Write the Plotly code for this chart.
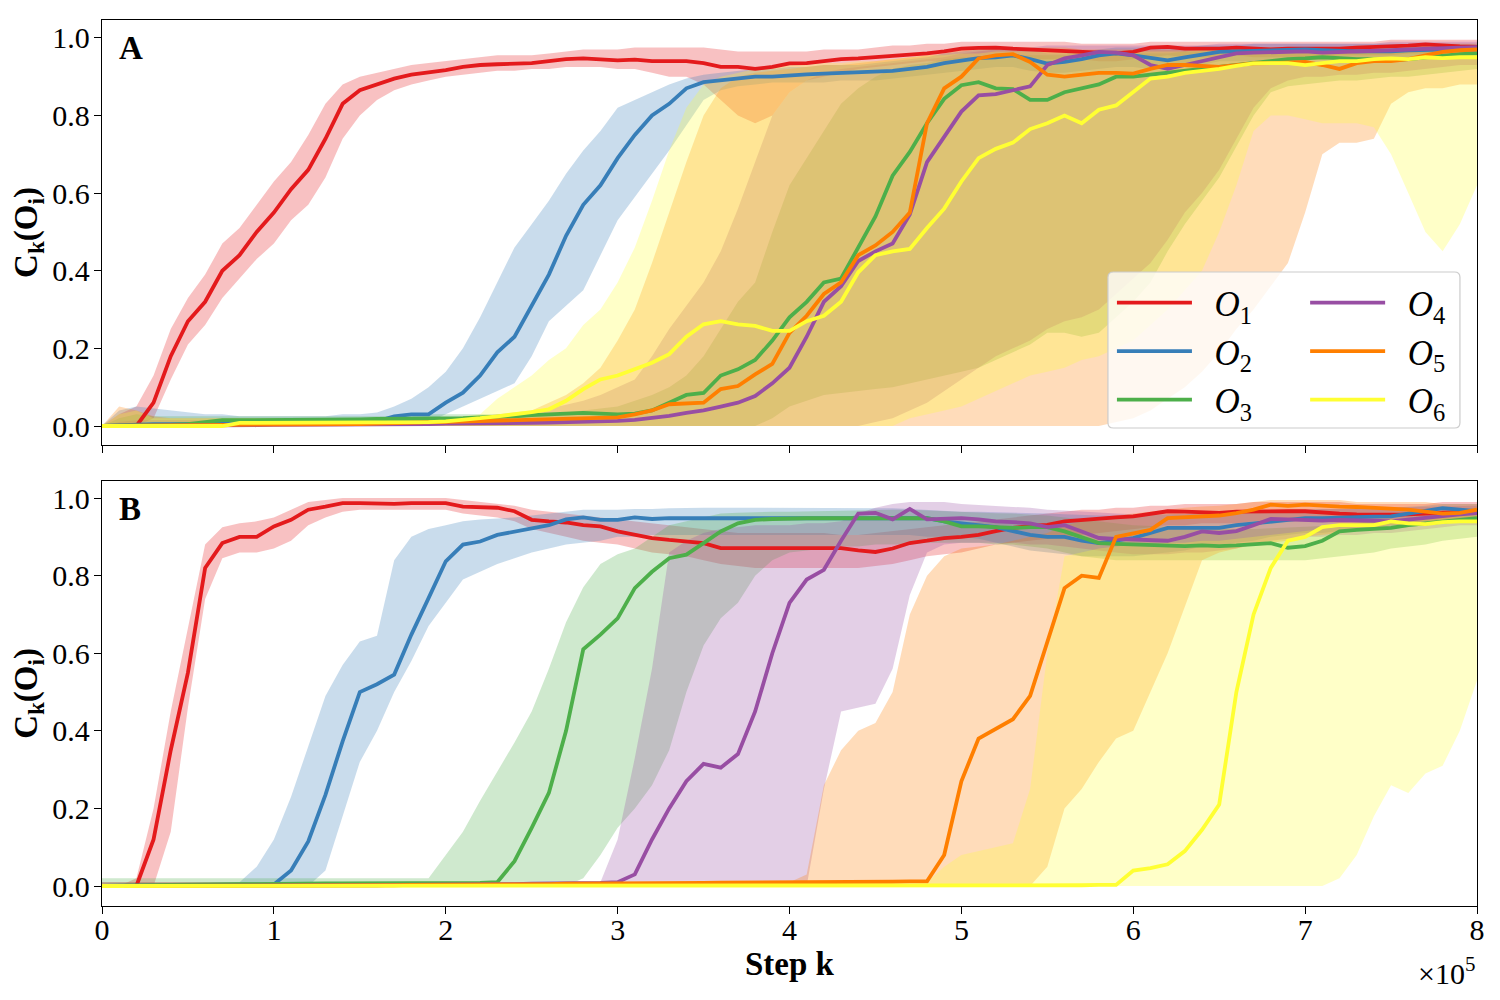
"""
Two-panel plot of C_k(O_i) against training step for six options O1..O6.
Each curve is drawn with a shaded band (lower/upper bound).
Saves to out.html.
"""

import plotly.graph_objects as go

FONT = "Liberation Serif"

# step axis, in units of 1e5
STEPS = [
    0.0, 0.1, 0.2, 0.3, 0.4, 0.5, 0.6, 0.7, 0.8, 0.9,
    1.0, 1.1, 1.2, 1.3, 1.4, 1.5, 1.6, 1.7, 1.8, 1.9,
    2.0, 2.1, 2.2, 2.3, 2.4, 2.5, 2.6, 2.7, 2.8, 2.9,
    3.0, 3.1, 3.2, 3.3, 3.4, 3.5, 3.6, 3.7, 3.8, 3.9,
    4.0, 4.1, 4.2, 4.3, 4.4, 4.5, 4.6, 4.7, 4.8, 4.9,
    5.0, 5.1, 5.2, 5.3, 5.4, 5.5, 5.6, 5.7, 5.8, 5.9,
    6.0, 6.1, 6.2, 6.3, 6.4, 6.5, 6.6, 6.7, 6.8, 6.9,
    7.0, 7.1, 7.2, 7.3, 7.4, 7.5, 7.6, 7.7, 7.8, 7.9,
    8.0,
]

LABELS = [
    "\u2002<i>O</i><sub>1</sub>", "\u2002<i>O</i><sub>2</sub>", "\u2002<i>O</i><sub>3</sub>",
    "\u2002<i>O</i><sub>4</sub>", "\u2002<i>O</i><sub>5</sub>", "\u2002<i>O</i><sub>6</sub>",
]
COLOURS = ["#e41a1c", "#377eb8", "#4daf4a", "#984ea3", "#ff7f00", "#ffff33"]

Y_TICKS = [0.0, 0.2, 0.4, 0.6, 0.8, 1.0]
Y_TICK_TEXT = ["0.0", "0.2", "0.4", "0.6", "0.8", "1.0"]
X_TICKS = [0, 1, 2, 3, 4, 5, 6, 7, 8]

# ---------------- panel A ----------------
A_O1_MEAN = [
    0.00, 0.00, 0.00, 0.06, 0.18, 0.27, 0.32, 0.40, 0.44, 0.50,
    0.55, 0.61, 0.66, 0.74, 0.83, 0.865, 0.88, 0.895, 0.905, 0.91,
    0.917, 0.925, 0.93, 0.932, 0.934, 0.935, 0.94, 0.945, 0.947, 0.945,
    0.942, 0.944, 0.94, 0.94, 0.94, 0.935, 0.925, 0.925, 0.92, 0.925,
    0.934, 0.935, 0.94, 0.945, 0.947, 0.95, 0.955, 0.958, 0.96, 0.965,
    0.972, 0.974, 0.975, 0.972, 0.97, 0.968, 0.968, 0.965, 0.963, 0.96,
    0.964, 0.975, 0.977, 0.972, 0.972, 0.972, 0.975, 0.972, 0.97, 0.972,
    0.972, 0.97, 0.972, 0.975, 0.976, 0.978, 0.98, 0.983, 0.98, 0.978,
    0.977,
]
A_O1_LO = [
    0.00, 0.00, 0.00, 0.02, 0.12, 0.21, 0.26, 0.33, 0.38, 0.43,
    0.47, 0.53, 0.57, 0.64, 0.74, 0.80, 0.84, 0.865, 0.88, 0.89,
    0.90, 0.905, 0.91, 0.915, 0.915, 0.92, 0.92, 0.925, 0.925, 0.925,
    0.92, 0.92, 0.91, 0.90, 0.90, 0.88, 0.84, 0.80, 0.78, 0.80,
    0.86, 0.89, 0.90, 0.91, 0.92, 0.925, 0.93, 0.935, 0.94, 0.94,
    0.945, 0.95, 0.95, 0.95, 0.945, 0.945, 0.945, 0.945, 0.94, 0.94,
    0.945, 0.95, 0.955, 0.95, 0.95, 0.95, 0.955, 0.95, 0.95, 0.95,
    0.95, 0.95, 0.955, 0.955, 0.955, 0.955, 0.96, 0.96, 0.96, 0.96,
    0.96,
]
A_O1_HI = [
    0.00, 0.03, 0.05, 0.13, 0.25, 0.33, 0.39, 0.47, 0.51, 0.57,
    0.63, 0.68, 0.75, 0.83, 0.88, 0.90, 0.91, 0.92, 0.93, 0.935,
    0.94, 0.945, 0.95, 0.955, 0.955, 0.955, 0.96, 0.965, 0.97, 0.97,
    0.97, 0.975, 0.975, 0.975, 0.975, 0.975, 0.97, 0.965, 0.965, 0.965,
    0.965, 0.965, 0.97, 0.97, 0.97, 0.975, 0.98, 0.98, 0.985, 0.985,
    0.99, 0.99, 0.99, 0.99, 0.99, 0.99, 0.99, 0.985, 0.985, 0.985,
    0.985, 0.99, 0.99, 0.99, 0.99, 0.99, 0.99, 0.99, 0.99, 0.99,
    0.99, 0.99, 0.99, 0.99, 0.99, 0.995, 0.995, 0.995, 0.995, 0.995,
    0.995,
]

A_O2_MEAN = [
    0.00, 0.002, 0.005, 0.005, 0.005, 0.005, 0.006, 0.006, 0.007, 0.007,
    0.008, 0.008, 0.008, 0.009, 0.009, 0.01, 0.012, 0.025, 0.03, 0.03,
    0.06, 0.086, 0.13, 0.19, 0.23, 0.31, 0.39, 0.49, 0.57, 0.62,
    0.69, 0.75, 0.80, 0.83, 0.87, 0.886, 0.89, 0.895, 0.90, 0.90,
    0.904, 0.906, 0.908, 0.91, 0.91, 0.912, 0.915, 0.92, 0.925, 0.935,
    0.942, 0.948, 0.95, 0.955, 0.945, 0.934, 0.938, 0.945, 0.955, 0.96,
    0.955, 0.948, 0.942, 0.95, 0.958, 0.964, 0.965, 0.966, 0.968, 0.97,
    0.97, 0.968, 0.966, 0.965, 0.966, 0.965, 0.968, 0.97, 0.97, 0.97,
    0.97,
]
A_O2_LO = [
    0.00, 0.00, 0.00, 0.00, 0.00, 0.00, 0.00, 0.00, 0.00, 0.00,
    0.00, 0.00, 0.00, 0.00, 0.00, 0.00, 0.00, 0.00, 0.005, 0.01,
    0.03, 0.05, 0.07, 0.09, 0.11, 0.18, 0.27, 0.31, 0.35, 0.44,
    0.53, 0.59, 0.65, 0.71, 0.775, 0.84, 0.865, 0.875, 0.88, 0.885,
    0.885, 0.885, 0.885, 0.89, 0.89, 0.89, 0.895, 0.90, 0.905, 0.91,
    0.915, 0.92, 0.925, 0.925, 0.915, 0.91, 0.91, 0.915, 0.92, 0.925,
    0.925, 0.92, 0.92, 0.925, 0.93, 0.94, 0.94, 0.94, 0.945, 0.945,
    0.945, 0.945, 0.945, 0.945, 0.945, 0.945, 0.95, 0.95, 0.95, 0.95,
    0.95,
]
A_O2_HI = [
    0.00, 0.04, 0.05, 0.045, 0.04, 0.035, 0.03, 0.03, 0.025, 0.025,
    0.025, 0.025, 0.025, 0.025, 0.03, 0.03, 0.035, 0.05, 0.07, 0.10,
    0.14, 0.20, 0.28, 0.37, 0.46, 0.52, 0.58, 0.65, 0.71, 0.76,
    0.82, 0.84, 0.86, 0.88, 0.895, 0.905, 0.91, 0.915, 0.92, 0.92,
    0.925, 0.925, 0.93, 0.93, 0.93, 0.935, 0.94, 0.945, 0.95, 0.96,
    0.965, 0.97, 0.975, 0.975, 0.97, 0.96, 0.96, 0.965, 0.97, 0.975,
    0.975, 0.975, 0.97, 0.975, 0.98, 0.98, 0.98, 0.985, 0.985, 0.985,
    0.985, 0.985, 0.985, 0.985, 0.985, 0.985, 0.985, 0.985, 0.985, 0.985,
    0.985,
]

A_O3_MEAN = [
    0.00, 0.00, 0.00, 0.002, 0.003, 0.005, 0.01, 0.015, 0.015, 0.015,
    0.015, 0.015, 0.016, 0.016, 0.017, 0.017, 0.018, 0.018, 0.019, 0.019,
    0.02, 0.02, 0.022, 0.023, 0.025, 0.028, 0.03, 0.034, 0.034, 0.032,
    0.03, 0.032, 0.04, 0.06, 0.08, 0.085, 0.13, 0.146, 0.17, 0.22,
    0.28, 0.32, 0.37, 0.38, 0.46, 0.54, 0.645, 0.706, 0.78, 0.843,
    0.878, 0.886, 0.87, 0.868, 0.84, 0.84, 0.86, 0.87, 0.88, 0.90,
    0.90, 0.905, 0.91, 0.915, 0.92, 0.925, 0.93, 0.935, 0.94, 0.945,
    0.947, 0.95, 0.948, 0.945, 0.945, 0.943, 0.945, 0.95, 0.955, 0.958,
    0.96,
]
A_O3_LO = [
    0.00, 0.00, 0.00, 0.00, 0.00, 0.00, 0.00, 0.00, 0.00, 0.00,
    0.00, 0.00, 0.00, 0.00, 0.00, 0.00, 0.00, 0.00, 0.00, 0.00,
    0.00, 0.00, 0.00, 0.00, 0.00, 0.00, 0.00, 0.00, 0.00, 0.00,
    0.00, 0.00, 0.00, 0.00, 0.00, 0.00, 0.00, 0.00, 0.00, 0.02,
    0.05, 0.065, 0.08, 0.085, 0.09, 0.095, 0.10, 0.11, 0.12, 0.13,
    0.14, 0.15, 0.17, 0.19, 0.21, 0.24, 0.24, 0.23, 0.24, 0.28,
    0.32, 0.37, 0.45, 0.52, 0.58, 0.64, 0.72, 0.80, 0.86, 0.875,
    0.88, 0.885, 0.89, 0.89, 0.895, 0.90, 0.90, 0.905, 0.91, 0.915,
    0.92,
]
A_O3_HI = [
    0.00, 0.02, 0.03, 0.025, 0.025, 0.025, 0.025, 0.025, 0.025, 0.025,
    0.025, 0.025, 0.025, 0.025, 0.025, 0.025, 0.025, 0.025, 0.025, 0.03,
    0.03, 0.03, 0.03, 0.03, 0.03, 0.03, 0.03, 0.035, 0.04, 0.045,
    0.05, 0.065, 0.08, 0.10, 0.13, 0.18, 0.25, 0.32, 0.37, 0.50,
    0.62, 0.69, 0.76, 0.83, 0.87, 0.90, 0.92, 0.93, 0.935, 0.945,
    0.95, 0.95, 0.95, 0.955, 0.955, 0.955, 0.955, 0.96, 0.96, 0.96,
    0.96, 0.96, 0.96, 0.965, 0.965, 0.965, 0.965, 0.965, 0.97, 0.97,
    0.97, 0.97, 0.97, 0.97, 0.97, 0.97, 0.975, 0.975, 0.975, 0.975,
    0.975,
]

A_O4_MEAN = [
    0.00, 0.00, 0.00, 0.00, 0.00, 0.00, 0.00, 0.00, 0.002, 0.002,
    0.003, 0.003, 0.003, 0.003, 0.004, 0.004, 0.004, 0.005, 0.005, 0.005,
    0.006, 0.006, 0.006, 0.007, 0.007, 0.008, 0.009, 0.01, 0.01, 0.012,
    0.013, 0.016, 0.02, 0.026, 0.034, 0.04, 0.05, 0.06, 0.077, 0.11,
    0.15, 0.23, 0.32, 0.36, 0.425, 0.45, 0.47, 0.545, 0.68, 0.745,
    0.81, 0.852, 0.855, 0.865, 0.875, 0.93, 0.947, 0.955, 0.964, 0.962,
    0.955, 0.93, 0.92, 0.93, 0.94, 0.95, 0.96, 0.962, 0.963, 0.965,
    0.965, 0.962, 0.963, 0.965, 0.967, 0.968, 0.97, 0.972, 0.975, 0.975,
    0.976,
]
A_O4_LO = [
    0.00, 0.00, 0.00, 0.00, 0.00, 0.00, 0.00, 0.00, 0.00, 0.00,
    0.00, 0.00, 0.00, 0.00, 0.00, 0.00, 0.00, 0.00, 0.00, 0.00,
    0.00, 0.00, 0.00, 0.00, 0.00, 0.00, 0.00, 0.00, 0.00, 0.00,
    0.00, 0.00, 0.00, 0.00, 0.00, 0.00, 0.00, 0.00, 0.00, 0.00,
    0.00, 0.00, 0.00, 0.00, 0.00, 0.01, 0.02, 0.04, 0.06, 0.09,
    0.12, 0.15, 0.18, 0.20, 0.22, 0.25, 0.27, 0.28, 0.30, 0.34,
    0.38, 0.42, 0.48, 0.55, 0.60, 0.66, 0.74, 0.82, 0.87, 0.89,
    0.90, 0.90, 0.905, 0.905, 0.91, 0.91, 0.915, 0.92, 0.925, 0.93,
    0.93,
]
A_O4_HI = [
    0.00, 0.01, 0.015, 0.015, 0.015, 0.015, 0.015, 0.015, 0.015, 0.015,
    0.015, 0.015, 0.015, 0.015, 0.015, 0.015, 0.015, 0.015, 0.015, 0.02,
    0.02, 0.02, 0.025, 0.03, 0.035, 0.04, 0.045, 0.055, 0.065, 0.08,
    0.10, 0.12, 0.18, 0.25, 0.31, 0.37, 0.45, 0.56, 0.68, 0.80,
    0.86, 0.89, 0.91, 0.92, 0.925, 0.93, 0.935, 0.94, 0.945, 0.95,
    0.96, 0.965, 0.97, 0.975, 0.975, 0.98, 0.98, 0.98, 0.98, 0.98,
    0.98, 0.98, 0.98, 0.98, 0.98, 0.985, 0.985, 0.985, 0.985, 0.985,
    0.985, 0.985, 0.985, 0.985, 0.985, 0.99, 0.99, 0.99, 0.99, 0.99,
    0.99,
]

A_O5_MEAN = [
    0.00, 0.00, 0.00, 0.00, 0.00, 0.002, 0.002, 0.003, 0.003, 0.003,
    0.004, 0.004, 0.004, 0.005, 0.005, 0.005, 0.006, 0.007, 0.008, 0.009,
    0.01, 0.011, 0.012, 0.013, 0.014, 0.015, 0.016, 0.017, 0.018, 0.02,
    0.022, 0.03, 0.04, 0.056, 0.058, 0.06, 0.095, 0.103, 0.133, 0.16,
    0.24, 0.284, 0.34, 0.37, 0.44, 0.465, 0.50, 0.55, 0.78, 0.87,
    0.90, 0.947, 0.955, 0.958, 0.938, 0.905, 0.90, 0.905, 0.91, 0.91,
    0.908, 0.92, 0.93, 0.93, 0.928, 0.925, 0.93, 0.934, 0.935, 0.937,
    0.938, 0.93, 0.92, 0.935, 0.94, 0.94, 0.945, 0.955, 0.964, 0.968,
    0.97,
]
A_O5_LO = [
    0.00, 0.00, 0.00, 0.00, 0.00, 0.00, 0.00, 0.00, 0.00, 0.00,
    0.00, 0.00, 0.00, 0.00, 0.00, 0.00, 0.00, 0.00, 0.00, 0.00,
    0.00, 0.00, 0.00, 0.00, 0.00, 0.00, 0.00, 0.00, 0.00, 0.00,
    0.00, 0.00, 0.00, 0.00, 0.00, 0.00, 0.00, 0.00, 0.00, 0.00,
    0.00, 0.00, 0.00, 0.00, 0.00, 0.00, 0.00, 0.00, 0.00, 0.00,
    0.00, 0.00, 0.00, 0.00, 0.00, 0.00, 0.00, 0.00, 0.00, 0.01,
    0.02, 0.04, 0.07, 0.10, 0.14, 0.19, 0.25, 0.30, 0.36, 0.42,
    0.55, 0.70, 0.73, 0.73, 0.74, 0.83, 0.86, 0.87, 0.87, 0.88,
    0.88,
]
A_O5_HI = [
    0.00, 0.05, 0.04, 0.025, 0.02, 0.02, 0.02, 0.02, 0.02, 0.02,
    0.02, 0.02, 0.02, 0.02, 0.02, 0.02, 0.02, 0.02, 0.02, 0.02,
    0.02, 0.02, 0.02, 0.025, 0.03, 0.04, 0.06, 0.08, 0.11, 0.15,
    0.22, 0.30, 0.42, 0.55, 0.68, 0.80, 0.87, 0.90, 0.91, 0.915,
    0.92, 0.925, 0.93, 0.93, 0.935, 0.94, 0.945, 0.95, 0.955, 0.96,
    0.97, 0.975, 0.975, 0.975, 0.975, 0.975, 0.975, 0.97, 0.97, 0.97,
    0.97, 0.97, 0.97, 0.97, 0.97, 0.97, 0.975, 0.975, 0.975, 0.975,
    0.975, 0.975, 0.975, 0.98, 0.98, 0.98, 0.98, 0.985, 0.985, 0.985,
    0.985,
]

A_O6_MEAN = [
    0.00, 0.00, 0.00, 0.00, 0.00, 0.00, 0.00, 0.00, 0.008, 0.008,
    0.008, 0.008, 0.008, 0.008, 0.008, 0.008, 0.009, 0.009, 0.01, 0.01,
    0.012, 0.015, 0.02, 0.025, 0.03, 0.036, 0.043, 0.065, 0.095, 0.12,
    0.13, 0.146, 0.163, 0.185, 0.23, 0.262, 0.27, 0.262, 0.258, 0.245,
    0.245, 0.27, 0.284, 0.32, 0.396, 0.44, 0.45, 0.456, 0.51, 0.56,
    0.63, 0.69, 0.714, 0.73, 0.765, 0.78, 0.80, 0.78, 0.815, 0.826,
    0.86, 0.895, 0.90, 0.91, 0.915, 0.92, 0.928, 0.934, 0.935, 0.935,
    0.93, 0.935, 0.94, 0.94, 0.945, 0.947, 0.945, 0.95, 0.948, 0.95,
    0.95,
]
A_O6_LO = [
    0.00, 0.00, 0.00, 0.00, 0.00, 0.00, 0.00, 0.00, 0.00, 0.00,
    0.00, 0.00, 0.00, 0.00, 0.00, 0.00, 0.00, 0.00, 0.00, 0.00,
    0.00, 0.00, 0.00, 0.00, 0.00, 0.00, 0.00, 0.00, 0.00, 0.00,
    0.00, 0.00, 0.00, 0.00, 0.00, 0.00, 0.00, 0.00, 0.00, 0.00,
    0.00, 0.00, 0.00, 0.00, 0.00, 0.00, 0.00, 0.02, 0.03, 0.04,
    0.05, 0.07, 0.09, 0.11, 0.13, 0.14, 0.15, 0.17, 0.18, 0.20,
    0.22, 0.26, 0.30, 0.35, 0.40, 0.50, 0.62, 0.76, 0.80, 0.80,
    0.79, 0.78, 0.78, 0.78, 0.77, 0.70, 0.60, 0.50, 0.45, 0.52,
    0.62,
]
A_O6_HI = [
    0.00, 0.03, 0.04, 0.02, 0.02, 0.02, 0.02, 0.02, 0.02, 0.02,
    0.02, 0.02, 0.02, 0.02, 0.02, 0.02, 0.02, 0.02, 0.02, 0.02,
    0.02, 0.025, 0.03, 0.07, 0.10, 0.13, 0.17, 0.20, 0.26, 0.30,
    0.37, 0.46, 0.58, 0.71, 0.82, 0.88, 0.90, 0.91, 0.92, 0.925,
    0.93, 0.93, 0.935, 0.935, 0.94, 0.94, 0.945, 0.95, 0.955, 0.955,
    0.96, 0.96, 0.965, 0.965, 0.965, 0.965, 0.965, 0.965, 0.965, 0.965,
    0.965, 0.965, 0.965, 0.965, 0.97, 0.97, 0.97, 0.97, 0.97, 0.97,
    0.97, 0.97, 0.97, 0.97, 0.97, 0.975, 0.975, 0.975, 0.975, 0.975,
    0.975,
]

# ---------------- panel B ----------------
B_O1_MEAN = [
    0.00, 0.00, 0.00, 0.12, 0.35, 0.55, 0.82, 0.884, 0.90, 0.90,
    0.927, 0.944, 0.97, 0.978, 0.987, 0.987, 0.985, 0.985, 0.987, 0.987,
    0.987, 0.978, 0.976, 0.975, 0.966, 0.944, 0.94, 0.937, 0.93, 0.927,
    0.914, 0.905, 0.897, 0.892, 0.888, 0.884, 0.871, 0.871, 0.871, 0.871,
    0.871, 0.871, 0.872, 0.871, 0.865, 0.861, 0.87, 0.884, 0.89, 0.897,
    0.90, 0.905, 0.915, 0.923, 0.928, 0.931, 0.94, 0.944, 0.948, 0.95,
    0.953, 0.96, 0.966, 0.965, 0.963, 0.962, 0.965, 0.966, 0.965, 0.966,
    0.966, 0.962, 0.96, 0.958, 0.957, 0.957, 0.958, 0.96, 0.963, 0.965,
    0.966,
]
B_O1_LO = [
    0.00, 0.00, 0.00, 0.00, 0.14, 0.46, 0.74, 0.845, 0.86, 0.86,
    0.87, 0.89, 0.93, 0.95, 0.965, 0.97, 0.97, 0.97, 0.97, 0.97,
    0.97, 0.96, 0.955, 0.95, 0.94, 0.92, 0.91, 0.90, 0.89, 0.885,
    0.88, 0.87, 0.86, 0.855, 0.85, 0.84, 0.83, 0.825, 0.82, 0.82,
    0.82, 0.82, 0.82, 0.82, 0.82, 0.825, 0.83, 0.84, 0.85, 0.855,
    0.86, 0.87, 0.88, 0.885, 0.89, 0.895, 0.90, 0.905, 0.91, 0.915,
    0.92, 0.925, 0.93, 0.93, 0.935, 0.935, 0.935, 0.94, 0.94, 0.94,
    0.94, 0.94, 0.935, 0.935, 0.935, 0.935, 0.935, 0.94, 0.94, 0.94,
    0.94,
]
B_O1_HI = [
    0.00, 0.00, 0.02, 0.20, 0.45, 0.665, 0.88, 0.925, 0.935, 0.94,
    0.95, 0.97, 0.99, 0.995, 1.0, 1.0, 1.0, 1.0, 1.0, 1.0,
    1.0, 0.995, 0.99, 0.985, 0.98, 0.97, 0.965, 0.96, 0.955, 0.95,
    0.945, 0.94, 0.935, 0.93, 0.925, 0.92, 0.915, 0.91, 0.91, 0.91,
    0.91, 0.91, 0.91, 0.905, 0.905, 0.91, 0.915, 0.92, 0.925, 0.93,
    0.935, 0.94, 0.945, 0.95, 0.955, 0.96, 0.965, 0.97, 0.97, 0.975,
    0.975, 0.98, 0.98, 0.985, 0.985, 0.985, 0.985, 0.99, 0.99, 0.99,
    0.99, 0.99, 0.99, 0.985, 0.985, 0.985, 0.985, 0.985, 0.99, 0.99,
    0.99,
]

B_O2_MEAN = [
    0.00, 0.00, 0.00, 0.002, 0.002, 0.002, 0.003, 0.003, 0.003, 0.003,
    0.004, 0.04, 0.115, 0.235, 0.373, 0.50, 0.52, 0.545, 0.648, 0.742,
    0.837, 0.88, 0.888, 0.905, 0.914, 0.923, 0.93, 0.945, 0.95, 0.944,
    0.944, 0.95, 0.946, 0.948, 0.948, 0.948, 0.948, 0.948, 0.947, 0.948,
    0.948, 0.948, 0.947, 0.948, 0.948, 0.948, 0.947, 0.946, 0.948, 0.94,
    0.935, 0.93, 0.925, 0.915, 0.905, 0.90, 0.90, 0.89, 0.884, 0.89,
    0.897, 0.91, 0.923, 0.923, 0.922, 0.923, 0.93, 0.935, 0.94, 0.945,
    0.948, 0.948, 0.95, 0.95, 0.952, 0.953, 0.96, 0.965, 0.974, 0.97,
    0.966,
]
B_O2_LO = [
    0.00, 0.00, 0.00, 0.00, 0.00, 0.00, 0.00, 0.00, 0.00, 0.00,
    0.00, 0.00, 0.00, 0.04, 0.18, 0.32, 0.40, 0.50, 0.58, 0.67,
    0.73, 0.79, 0.81, 0.83, 0.845, 0.86, 0.87, 0.88, 0.885, 0.89,
    0.90, 0.90, 0.905, 0.905, 0.905, 0.905, 0.905, 0.905, 0.905, 0.905,
    0.905, 0.905, 0.905, 0.905, 0.905, 0.905, 0.905, 0.905, 0.90, 0.90,
    0.90, 0.895, 0.885, 0.875, 0.865, 0.86, 0.855, 0.85, 0.85, 0.85,
    0.85, 0.855, 0.86, 0.865, 0.875, 0.88, 0.885, 0.89, 0.90, 0.905,
    0.91, 0.91, 0.915, 0.915, 0.92, 0.92, 0.925, 0.93, 0.935, 0.94,
    0.94,
]
B_O2_HI = [
    0.01, 0.01, 0.01, 0.01, 0.01, 0.01, 0.01, 0.01, 0.01, 0.05,
    0.12, 0.23, 0.36, 0.49, 0.57, 0.63, 0.645, 0.84, 0.90, 0.92,
    0.93, 0.94, 0.945, 0.948, 0.95, 0.955, 0.96, 0.965, 0.97, 0.97,
    0.97, 0.972, 0.972, 0.974, 0.975, 0.975, 0.975, 0.975, 0.975, 0.975,
    0.975, 0.975, 0.975, 0.975, 0.975, 0.975, 0.974, 0.972, 0.97, 0.968,
    0.965, 0.965, 0.964, 0.963, 0.962, 0.96, 0.958, 0.956, 0.955, 0.955,
    0.955, 0.956, 0.958, 0.958, 0.96, 0.96, 0.962, 0.965, 0.967, 0.97,
    0.97, 0.972, 0.972, 0.974, 0.975, 0.975, 0.978, 0.98, 0.985, 0.985,
    0.985,
]

B_O3_MEAN = [
    0.00, 0.00, 0.00, 0.002, 0.003, 0.004, 0.005, 0.005, 0.005, 0.005,
    0.006, 0.006, 0.007, 0.007, 0.007, 0.007, 0.007, 0.007, 0.008, 0.008,
    0.008, 0.008, 0.008, 0.01, 0.064, 0.15, 0.24, 0.40, 0.61, 0.648,
    0.69, 0.768, 0.81, 0.845, 0.854, 0.884, 0.914, 0.935, 0.944, 0.946,
    0.948, 0.948, 0.948, 0.948, 0.95, 0.95, 0.949, 0.948, 0.948, 0.94,
    0.927, 0.927, 0.925, 0.923, 0.925, 0.925, 0.914, 0.90, 0.884, 0.882,
    0.88, 0.878, 0.876, 0.876, 0.878, 0.876, 0.878, 0.882, 0.884, 0.872,
    0.876, 0.89, 0.914, 0.918, 0.92, 0.923, 0.93, 0.935, 0.94, 0.945,
    0.948,
]
B_O3_LO = [
    0.00, 0.00, 0.00, 0.00, 0.00, 0.00, 0.00, 0.00, 0.00, 0.00,
    0.00, 0.00, 0.00, 0.00, 0.00, 0.00, 0.00, 0.00, 0.00, 0.00,
    0.00, 0.00, 0.00, 0.00, 0.00, 0.00, 0.00, 0.00, 0.02, 0.08,
    0.15, 0.20, 0.26, 0.35, 0.50, 0.62, 0.69, 0.73, 0.80, 0.84,
    0.86, 0.865, 0.87, 0.875, 0.875, 0.88, 0.88, 0.88, 0.885, 0.885,
    0.885, 0.885, 0.88, 0.88, 0.875, 0.87, 0.86, 0.85, 0.845, 0.84,
    0.84, 0.84, 0.84, 0.84, 0.84, 0.84, 0.84, 0.84, 0.84, 0.84,
    0.84, 0.845, 0.85, 0.855, 0.86, 0.87, 0.875, 0.88, 0.89, 0.895,
    0.90,
]
B_O3_HI = [
    0.02, 0.02, 0.02, 0.02, 0.02, 0.02, 0.02, 0.02, 0.02, 0.02,
    0.02, 0.02, 0.02, 0.02, 0.02, 0.02, 0.02, 0.02, 0.02, 0.02,
    0.08, 0.14, 0.22, 0.295, 0.37, 0.45, 0.56, 0.68, 0.77, 0.83,
    0.855, 0.87, 0.90, 0.93, 0.94, 0.95, 0.96, 0.962, 0.964, 0.965,
    0.965, 0.966, 0.967, 0.968, 0.969, 0.97, 0.97, 0.97, 0.968, 0.966,
    0.965, 0.963, 0.961, 0.96, 0.958, 0.955, 0.95, 0.945, 0.94, 0.935,
    0.93, 0.928, 0.926, 0.924, 0.922, 0.92, 0.92, 0.92, 0.922, 0.924,
    0.925, 0.928, 0.932, 0.936, 0.94, 0.945, 0.95, 0.955, 0.96, 0.963,
    0.965,
]

B_O4_MEAN = [
    0.00, 0.00, 0.00, 0.00, 0.00, 0.00, 0.00, 0.00, 0.00, 0.00,
    0.00, 0.00, 0.00, 0.00, 0.002, 0.002, 0.002, 0.003, 0.003, 0.003,
    0.004, 0.004, 0.004, 0.005, 0.005, 0.006, 0.006, 0.007, 0.007, 0.008,
    0.01, 0.03, 0.12, 0.20, 0.27, 0.315, 0.305, 0.34, 0.45, 0.60,
    0.73, 0.79, 0.815, 0.89, 0.96, 0.962, 0.945, 0.972, 0.945, 0.946,
    0.948, 0.945, 0.94, 0.938, 0.935, 0.925, 0.93, 0.914, 0.897, 0.895,
    0.893, 0.892, 0.89, 0.90, 0.914, 0.91, 0.915, 0.93, 0.946, 0.945,
    0.944, 0.942, 0.944, 0.944, 0.942, 0.94, 0.945, 0.95, 0.955, 0.958,
    0.961,
]
B_O4_LO = [
    0.00, 0.00, 0.00, 0.00, 0.00, 0.00, 0.00, 0.00, 0.00, 0.00,
    0.00, 0.00, 0.00, 0.00, 0.00, 0.00, 0.00, 0.00, 0.00, 0.00,
    0.00, 0.00, 0.00, 0.00, 0.00, 0.00, 0.00, 0.00, 0.00, 0.00,
    0.00, 0.00, 0.00, 0.00, 0.00, 0.00, 0.00, 0.00, 0.00, 0.00,
    0.00, 0.00, 0.25, 0.45, 0.46, 0.47, 0.56, 0.75, 0.86, 0.88,
    0.885, 0.885, 0.885, 0.885, 0.88, 0.88, 0.875, 0.87, 0.865, 0.86,
    0.855, 0.855, 0.855, 0.86, 0.86, 0.865, 0.87, 0.88, 0.89, 0.895,
    0.90, 0.90, 0.905, 0.905, 0.91, 0.91, 0.915, 0.92, 0.925, 0.93,
    0.93,
]
B_O4_HI = [
    0.01, 0.01, 0.01, 0.01, 0.01, 0.01, 0.01, 0.01, 0.01, 0.01,
    0.01, 0.01, 0.01, 0.01, 0.01, 0.01, 0.01, 0.01, 0.01, 0.01,
    0.01, 0.01, 0.01, 0.01, 0.01, 0.01, 0.01, 0.01, 0.01, 0.01,
    0.12, 0.33, 0.56, 0.86, 0.89, 0.91, 0.92, 0.925, 0.93, 0.93,
    0.93, 0.935, 0.935, 0.94, 0.96, 0.975, 0.985, 0.99, 0.99, 0.99,
    0.985, 0.982, 0.98, 0.977, 0.975, 0.97, 0.968, 0.965, 0.962, 0.96,
    0.958, 0.958, 0.958, 0.96, 0.962, 0.964, 0.966, 0.968, 0.97, 0.97,
    0.97, 0.972, 0.972, 0.974, 0.975, 0.975, 0.976, 0.977, 0.978, 0.98,
    0.98,
]

B_O5_MEAN = [
    0.00, 0.00, 0.00, 0.00, 0.00, 0.00, 0.00, 0.00, 0.00, 0.00,
    0.00, 0.00, 0.00, 0.00, 0.00, 0.002, 0.002, 0.002, 0.003, 0.003,
    0.003, 0.004, 0.004, 0.004, 0.005, 0.005, 0.005, 0.006, 0.006, 0.006,
    0.007, 0.007, 0.007, 0.008, 0.008, 0.008, 0.009, 0.009, 0.009, 0.01,
    0.01, 0.01, 0.01, 0.01, 0.011, 0.011, 0.011, 0.012, 0.012, 0.08,
    0.27, 0.38, 0.405, 0.43, 0.49, 0.63, 0.768, 0.80, 0.794, 0.90,
    0.91, 0.918, 0.948, 0.95, 0.953, 0.955, 0.961, 0.97, 0.983, 0.98,
    0.983, 0.98, 0.978, 0.977, 0.975, 0.974, 0.97, 0.965, 0.96, 0.962,
    0.97,
]
B_O5_LO = [
    0.00, 0.00, 0.00, 0.00, 0.00, 0.00, 0.00, 0.00, 0.00, 0.00,
    0.00, 0.00, 0.00, 0.00, 0.00, 0.00, 0.00, 0.00, 0.00, 0.00,
    0.00, 0.00, 0.00, 0.00, 0.00, 0.00, 0.00, 0.00, 0.00, 0.00,
    0.00, 0.00, 0.00, 0.00, 0.00, 0.00, 0.00, 0.00, 0.00, 0.00,
    0.00, 0.00, 0.00, 0.00, 0.00, 0.00, 0.00, 0.00, 0.00, 0.00,
    0.00, 0.00, 0.00, 0.00, 0.00, 0.05, 0.20, 0.25, 0.32, 0.38,
    0.40, 0.50, 0.60, 0.72, 0.84, 0.86, 0.87, 0.88, 0.885, 0.89,
    0.90, 0.905, 0.91, 0.915, 0.92, 0.93, 0.93, 0.935, 0.935, 0.94,
    0.94,
]
B_O5_HI = [
    0.01, 0.01, 0.01, 0.01, 0.01, 0.01, 0.01, 0.01, 0.01, 0.01,
    0.01, 0.01, 0.01, 0.01, 0.01, 0.01, 0.01, 0.01, 0.01, 0.01,
    0.01, 0.01, 0.01, 0.01, 0.01, 0.01, 0.01, 0.01, 0.01, 0.01,
    0.01, 0.01, 0.01, 0.01, 0.01, 0.01, 0.01, 0.01, 0.01, 0.01,
    0.01, 0.03, 0.26, 0.35, 0.40, 0.42, 0.50, 0.70, 0.80, 0.85,
    0.87, 0.875, 0.88, 0.89, 0.90, 0.91, 0.93, 0.94, 0.95, 0.955,
    0.96, 0.965, 0.97, 0.975, 0.978, 0.98, 0.985, 0.99, 0.995, 0.995,
    0.995, 0.995, 0.995, 0.99, 0.99, 0.99, 0.99, 0.99, 0.985, 0.985,
    0.985,
]

B_O6_MEAN = [
    0.00, 0.00, 0.00, 0.00, 0.00, 0.00, 0.00, 0.00, 0.00, 0.00,
    0.00, 0.00, 0.00, 0.00, 0.00, 0.00, 0.00, 0.00, 0.00, 0.00,
    0.00, 0.00, 0.00, 0.00, 0.00, 0.00, 0.00, 0.00, 0.00, 0.00,
    0.00, 0.00, 0.00, 0.00, 0.00, 0.00, 0.00, 0.00, 0.00, 0.00,
    0.00, 0.00, 0.00, 0.00, 0.00, 0.00, 0.00, 0.00, 0.00, 0.00,
    0.00, 0.00, 0.00, 0.00, 0.00, 0.00, 0.00, 0.002, 0.003, 0.003,
    0.04, 0.046, 0.056, 0.09, 0.145, 0.21, 0.50, 0.70, 0.82, 0.89,
    0.90, 0.925, 0.93, 0.93, 0.93, 0.94, 0.935, 0.933, 0.938, 0.94,
    0.94,
]
B_O6_LO = [
    0.00, 0.00, 0.00, 0.00, 0.00, 0.00, 0.00, 0.00, 0.00, 0.00,
    0.00, 0.00, 0.00, 0.00, 0.00, 0.00, 0.00, 0.00, 0.00, 0.00,
    0.00, 0.00, 0.00, 0.00, 0.00, 0.00, 0.00, 0.00, 0.00, 0.00,
    0.00, 0.00, 0.00, 0.00, 0.00, 0.00, 0.00, 0.00, 0.00, 0.00,
    0.00, 0.00, 0.00, 0.00, 0.00, 0.00, 0.00, 0.00, 0.00, 0.00,
    0.00, 0.00, 0.00, 0.00, 0.00, 0.00, 0.00, 0.00, 0.00, 0.00,
    0.00, 0.00, 0.00, 0.00, 0.00, 0.00, 0.00, 0.00, 0.00, 0.00,
    0.00, 0.00, 0.02, 0.08, 0.18, 0.26, 0.24, 0.29, 0.31, 0.40,
    0.53,
]
B_O6_HI = [
    0.005, 0.005, 0.005, 0.005, 0.005, 0.005, 0.005, 0.005, 0.005, 0.005,
    0.005, 0.005, 0.005, 0.005, 0.005, 0.005, 0.005, 0.005, 0.005, 0.005,
    0.005, 0.005, 0.005, 0.005, 0.005, 0.005, 0.005, 0.005, 0.005, 0.005,
    0.005, 0.005, 0.005, 0.005, 0.005, 0.005, 0.005, 0.005, 0.005, 0.005,
    0.005, 0.005, 0.005, 0.005, 0.005, 0.005, 0.005, 0.005, 0.01, 0.05,
    0.08, 0.09, 0.10, 0.11, 0.25, 0.60, 0.85, 0.86, 0.87, 0.875,
    0.88, 0.88, 0.885, 0.885, 0.89, 0.89, 0.895, 0.90, 0.905, 0.91,
    0.915, 0.92, 0.925, 0.93, 0.935, 0.94, 0.945, 0.95, 0.955, 0.96,
    0.965,
]

PANEL_A = [
    (A_O1_MEAN, A_O1_LO, A_O1_HI),
    (A_O2_MEAN, A_O2_LO, A_O2_HI),
    (A_O3_MEAN, A_O3_LO, A_O3_HI),
    (A_O4_MEAN, A_O4_LO, A_O4_HI),
    (A_O5_MEAN, A_O5_LO, A_O5_HI),
    (A_O6_MEAN, A_O6_LO, A_O6_HI),
]
PANEL_B = [
    (B_O1_MEAN, B_O1_LO, B_O1_HI),
    (B_O2_MEAN, B_O2_LO, B_O2_HI),
    (B_O3_MEAN, B_O3_LO, B_O3_HI),
    (B_O4_MEAN, B_O4_LO, B_O4_HI),
    (B_O5_MEAN, B_O5_LO, B_O5_HI),
    (B_O6_MEAN, B_O6_LO, B_O6_HI),
]


def rgba(hex_colour: str, alpha: float) -> str:
    h = hex_colour.lstrip("#")
    r, g, b = (int(h[i:i + 2], 16) for i in (0, 2, 4))
    return f"rgba({r},{g},{b},{alpha})"


def add_panel(fig, panel, xref, yref, with_legend):
    # shaded bands first, then the mean curves on top
    for (mean, lo, hi), colour in zip(panel, COLOURS):
        fig.add_trace(
            go.Scatter(
                x=STEPS + STEPS[::-1],
                y=hi + lo[::-1],
                fill="toself",
                fillcolor=rgba(colour, 0.27),
                line=dict(width=0),
                mode="lines",
                hoverinfo="skip",
                showlegend=False,
                xaxis=xref,
                yaxis=yref,
            )
        )
    for i, ((mean, lo, hi), colour) in enumerate(zip(panel, COLOURS)):
        fig.add_trace(
            go.Scatter(
                x=STEPS,
                y=mean,
                mode="lines",
                line=dict(color=colour, width=3.8),
                name=LABELS[i],
                showlegend=with_legend,
                legend="legend" if i < 3 else "legend2",
                xaxis=xref,
                yaxis=yref,
            )
        )


def main() -> None:
    fig = go.Figure()
    add_panel(fig, PANEL_A, "x", "y", True)
    add_panel(fig, PANEL_B, "x2", "y2", False)

    tick_font = dict(family=FONT, size=30, color="black")
    x_common = dict(
        range=[0, 8],
        tickvals=X_TICKS,
        showline=True,
        linecolor="black",
        linewidth=1.3,
        mirror=True,
        ticks="outside",
        ticklen=7,
        tickwidth=1.3,
        tickcolor="black",
        showgrid=False,
        zeroline=False,
        tickfont=tick_font,
        ticklabelstandoff=-10,
    )
    y_common = dict(
        tickvals=Y_TICKS,
        ticktext=Y_TICK_TEXT,
        showline=True,
        linecolor="black",
        linewidth=1.3,
        mirror=True,
        ticks="outside",
        ticklen=7,
        tickwidth=1.3,
        tickcolor="black",
        showgrid=False,
        zeroline=False,
        tickfont=tick_font,
        ticklabelstandoff=-2,
        title=dict(
            text="<b>C<sub>k</sub>(O<sub>i</sub>)</b>",
            font=dict(family=FONT, size=33, color="black"),
            standoff=8,
        ),
    )

    # rounded legend frame (paper coords)
    x0, x1, y0, y1 = 0.7316, 0.9876, 0.5395, 0.7156
    rx, ry = 0.004, 0.006
    frame = (
        f"M {x0 + rx},{y0} L {x1 - rx},{y0} Q {x1},{y0} {x1},{y0 + ry} "
        f"L {x1},{y1 - ry} Q {x1},{y1} {x1 - rx},{y1} "
        f"L {x0 + rx},{y1} Q {x0},{y1} {x0},{y1 - ry} "
        f"L {x0},{y0 + ry} Q {x0},{y0} {x0 + rx},{y0} Z"
    )

    legend_common = dict(
        bgcolor="rgba(0,0,0,0)",
        borderwidth=0,
        font=dict(family=FONT, size=35, color="black"),
        itemwidth=75,
        xanchor="left",
        yanchor="top",
        tracegroupgap=0,
    )

    fig.update_layout(
        width=1492,
        height=992,
        margin=dict(l=94, r=23, t=12, b=94),
        plot_bgcolor="white",
        paper_bgcolor="white",
        font=dict(family=FONT, color="black"),
        xaxis=dict(x_common, domain=[0, 1], anchor="y", showticklabels=False),
        xaxis2=dict(
            x_common,
            domain=[0, 1],
            anchor="y2",
            matches="x",
            title=dict(
                text="<b>Step k</b>",
                font=dict(family=FONT, size=33, color="black"),
                standoff=4,
            ),
        ),
        yaxis=dict(y_common, domain=[0.5203, 1.0], anchor="x", range=[-0.049, 1.046]),
        yaxis2=dict(y_common, domain=[0.0, 0.4797], anchor="x2", range=[-0.0515, 1.044]),
        legend=dict(legend_common, x=0.7345, y=0.714),
        legend2=dict(legend_common, x=0.875, y=0.714),
        shapes=[
            dict(
                type="path",
                path=frame,
                xref="paper",
                yref="paper",
                fillcolor="rgba(255,255,255,0.8)",
                line=dict(color="#cccccc", width=1.2),
                layer="above",
            )
        ],
        annotations=[
            dict(
                text="<b>A</b>", xref="x domain", yref="y domain",
                x=0.011, y=0.935, xanchor="left", yanchor="middle",
                showarrow=False, font=dict(family=FONT, size=33, color="black"),
            ),
            dict(
                text="<b>B</b>", xref="x2 domain", yref="y2 domain",
                x=0.011, y=0.935, xanchor="left", yanchor="middle",
                showarrow=False, font=dict(family=FONT, size=33, color="black"),
            ),
            dict(
                text="×10<sup>5</sup>", xref="paper", yref="paper",
                x=1.0, y=-0.05, xanchor="right", yanchor="top",
                showarrow=False, font=dict(family=FONT, size=30, color="black"),
            ),
        ],
    )

    fig.write_html("out.html")


if __name__ == "__main__":
    main()
